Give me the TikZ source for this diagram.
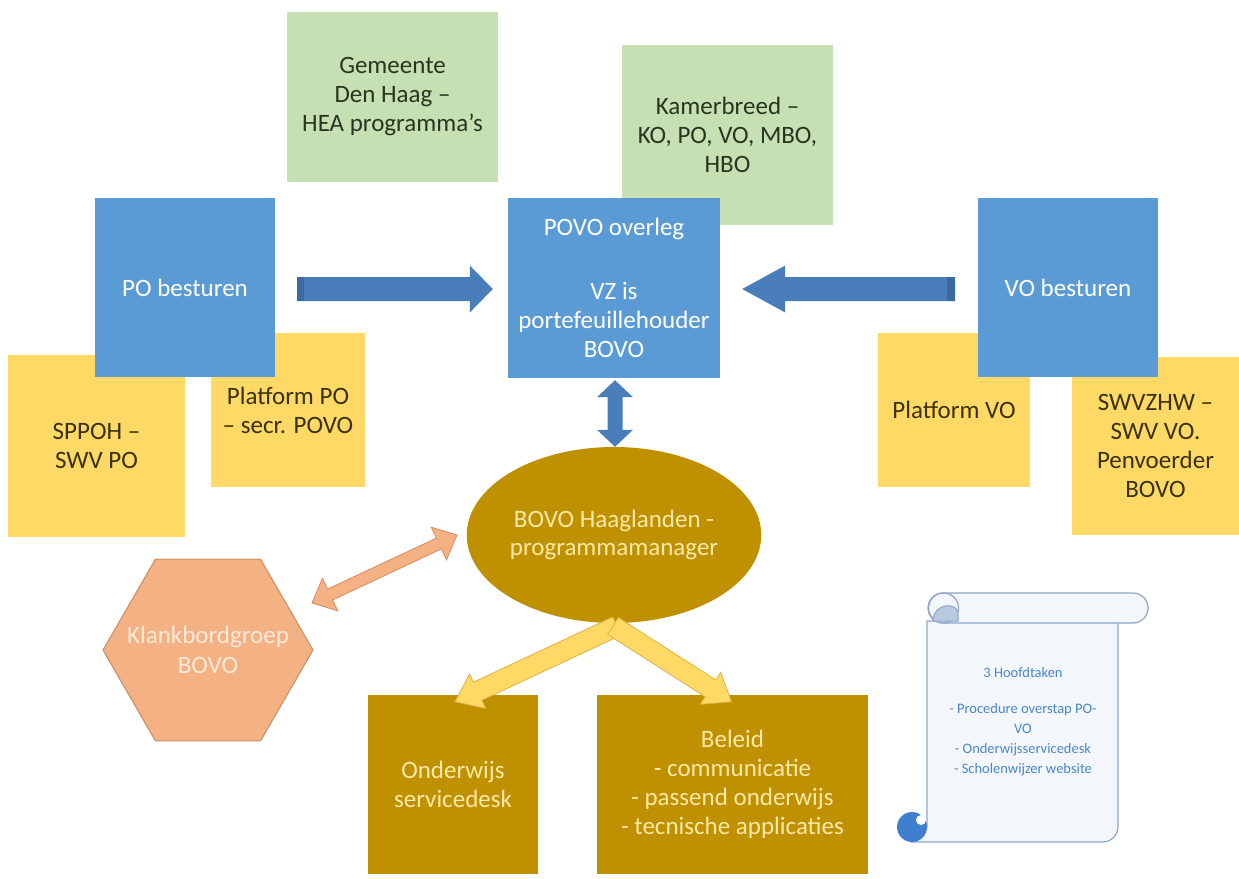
\documentclass[tikz,border=0pt]{standalone}
\usepackage{fontspec}
\setmainfont{Carlito}
\usetikzlibrary{calc,shapes.geometric}
\definecolor{grnfill}{HTML}{C6E0B4}
\definecolor{grntext}{HTML}{27361F}
\definecolor{bluefill}{HTML}{5B9BD5}
\definecolor{bluearrow}{HTML}{4A7EBB}
\definecolor{bluestripe}{HTML}{3C6A9E}
\definecolor{yelfill}{HTML}{FFD966}
\definecolor{yeltext}{HTML}{3A3100}
\definecolor{goldfill}{HTML}{BF9000}
\definecolor{goldtext}{HTML}{FFE9A8}
\definecolor{hexfill}{HTML}{F4B183}
\definecolor{hexline}{HTML}{C98B62}
\definecolor{hextext}{HTML}{FDE9DA}
\definecolor{orarrline}{HTML}{D98C5F}
\definecolor{yelarrline}{HTML}{E0B240}
\definecolor{scrollline}{HTML}{8CA6CA}
\definecolor{scrollfill}{HTML}{F3F7FC}
\definecolor{scrollshade}{HTML}{B9C9DF}
\definecolor{scrollcurl}{HTML}{3F7FD0}
\definecolor{scrolltext}{HTML}{4A86C8}

\newcommand\myblockarrow[6]{%
  \coordinate (bah) at ($(#3)!#6!(#2)$);
  \path[#1] ($(#2)!#4!90:(#3)$) -- ($(bah)!#4!90:(#3)$) -- ($(bah)!#5!90:(#3)$) -- (#3)
    -- ($(bah)!#5!-90:(#3)$) -- ($(bah)!#4!-90:(#3)$) -- ($(#2)!#4!-90:(#3)$) -- cycle;
}
\newcommand\mydoublearrow[6]{%
  \coordinate (dha) at ($(#2)!#6!(#3)$);
  \coordinate (dhb) at ($(#3)!#6!(#2)$);
  \path[#1] (#2) -- ($(dha)!#5!90:(#3)$) -- ($(dha)!#4!90:(#3)$) -- ($(dhb)!#4!90:(#3)$)
    -- ($(dhb)!#5!90:(#3)$) -- (#3) -- ($(dhb)!#5!-90:(#3)$) -- ($(dhb)!#4!-90:(#3)$)
    -- ($(dha)!#4!-90:(#3)$) -- ($(dha)!#5!-90:(#3)$) -- cycle;
}

\tikzset{
  box/.style={rectangle, inner sep=0pt, align=center, font=\fontsize{25}{29}\selectfont},
  greenbox/.style={box, fill=grnfill, text=grntext},
  bluebox/.style={box, fill=bluefill, text=white},
  yellowbox/.style={box, fill=yelfill, text=yeltext},
  goldbox/.style={box, fill=goldfill, text=goldtext},
  bluearr/.style={fill=bluearrow},
  stripe/.style={fill=bluestripe},
  orangearr/.style={fill=hexfill, draw=orarrline, line width=0.8pt},
  yellowarr/.style={fill=yelfill, draw=yelarrline, line width=0.8pt},
  hexshape/.style={regular polygon, regular polygon sides=6, minimum size=210pt, inner sep=0pt, fill=hexfill, draw=hexline, line width=1pt},
  hexlabel/.style={align=center, text=hextext, font=\fontsize{25}{30}\selectfont},
  scrollpart/.style={fill=scrollfill, draw=scrollline, line width=1.2pt},
  scrolllabel/.style={align=center, text=scrolltext, font=\fontsize{14.5}{20}\selectfont},
}

\begin{document}
\begin{tikzpicture}[x=1pt,y=-1pt]
\fill[white] (0,0) rectangle (1239,878);
\useasboundingbox (0,0) rectangle (1239,878);

% top green boxes
\node[greenbox, minimum width=211pt, minimum height=170pt] (gem) at (392.5,97) {Gemeente\\Den Haag --\\HEA programma’s};
\node[greenbox, minimum width=211pt, minimum height=180pt] (kam) at (727.5,135) {Kamerbreed --\\KO, PO, VO, MBO,\\HBO};

% POVO
\node[bluebox, minimum width=212pt, minimum height=180pt] (povo) at (614,288) {POVO overleg\\[35pt]VZ is\\portefeuillehouder\\BOVO};

% left group
\node[yellowbox, minimum width=177pt, minimum height=182pt] (sppoh) at (96.5,446) {SPPOH --\\SWV PO};
\node[yellowbox, minimum width=154pt, minimum height=154pt] (platpo) at (288,410) {Platform PO\\-- secr. POVO};
\node[bluebox, minimum width=180pt, minimum height=179pt] (po) at (185,287.5) {PO besturen};

% right group
\node[yellowbox, minimum width=152pt, minimum height=154pt] (platvo) at (954,410) {Platform VO};
\node[yellowbox, minimum width=167pt, minimum height=178pt] (swv) at (1155.5,446) {SWVZHW --\\SWV VO.\\Penvoerder\\BOVO};
\node[bluebox, minimum width=180pt, minimum height=179pt] (vo) at (1068,287.5) {VO besturen};

% blue arrows
\coordinate (poTail) at (297,289);
\coordinate (poTip) at ($(povo.west)+(-15,1)$);
\myblockarrow{bluearr}{poTail}{poTip}{12pt}{23.5pt}{23pt}
\fill[stripe] ($(poTail)+(0,-12)$) rectangle ($(poTail)+(7,12)$);
\coordinate (voTail) at (955,289);
\coordinate (voTip) at ($(povo.east)+(22,1)$);
\myblockarrow{bluearr}{voTail}{voTip}{12pt}{23.5pt}{43pt}
\fill[stripe] ($(voTail)+(-8,-12)$) rectangle ($(voTail)+(0,12)$);

% BOVO ellipse
\node[ellipse, fill=goldfill, minimum width=274pt, minimum height=176pt, inner sep=0pt, text=goldtext, align=center, font=\fontsize{25}{28}\selectfont] (bovo) at (614,535) {BOVO Haaglanden -\\programmamanager};

% vertical double arrow
\coordinate (vTop) at ($(povo.south)+(1,2)$);
\coordinate (vBot) at ($(bovo.north)+(1,0)$);
\mydoublearrow{bluearr}{vTop}{vBot}{7.5pt}{18pt}{17pt}

% hexagon
\node[hexshape] (hex) at (208,650) {};
\node[hexlabel] (hexl) at (hex.center) {Klankbordgroep\\BOVO};

% orange double arrow
\coordinate (oA) at (457,535);
\coordinate (oB) at (312,603);
\mydoublearrow{orangearr}{oA}{oB}{6pt}{18pt}{20pt}

% bottom boxes
\node[goldbox, minimum width=170pt, minimum height=179pt] (osd) at (453,784.5) {Onderwijs\\servicedesk};
\node[goldbox, minimum width=271pt, minimum height=179pt] (bel) at (732.5,784.5) {Beleid\\- communicatie\\- passend onderwijs\\- tecnische applicaties};

% yellow arrows
\coordinate (yLtail) at (617,626);
\coordinate (yLtip) at ($(osd.north)+(2,7)$);
\coordinate (yRtail) at (613,626);
\coordinate (yRtip) at ($(bel.north)+(-1,7)$);
\myblockarrow{yellowarr}{yLtail}{yLtip}{10pt}{19pt}{25pt}
\myblockarrow{yellowarr}{yRtail}{yRtip}{10pt}{19pt}{25pt}

% scroll
\path[scrollpart] (912,842) -- (1103,842) .. controls (1111,842) and (1118,835) .. (1118,827)
  -- (1118,621) -- (927,621) -- (927,827) -- cycle;
\draw[scrollpart, rounded corners=15pt] (928,593) rectangle (1148,623);
\draw[scrollline, line width=1.2pt] (943.5,608) circle[radius=15pt];
\filldraw[fill=scrollshade, draw=scrollline, line width=1pt] (933,621) .. controls (933,603) and (958,601) .. (958,614) -- (958,621) -- cycle;
\fill[scrollcurl] (912,827) circle[radius=15pt];
\fill[white] (921,820) circle[radius=5pt];
\node[scrolllabel] (tasks) at (1023,722) {3 Hoofdtaken\\[16pt]- Procedure overstap PO-\\VO\\- Onderwijsservicedesk\\- Scholenwijzer website};
\end{tikzpicture}
\end{document}
